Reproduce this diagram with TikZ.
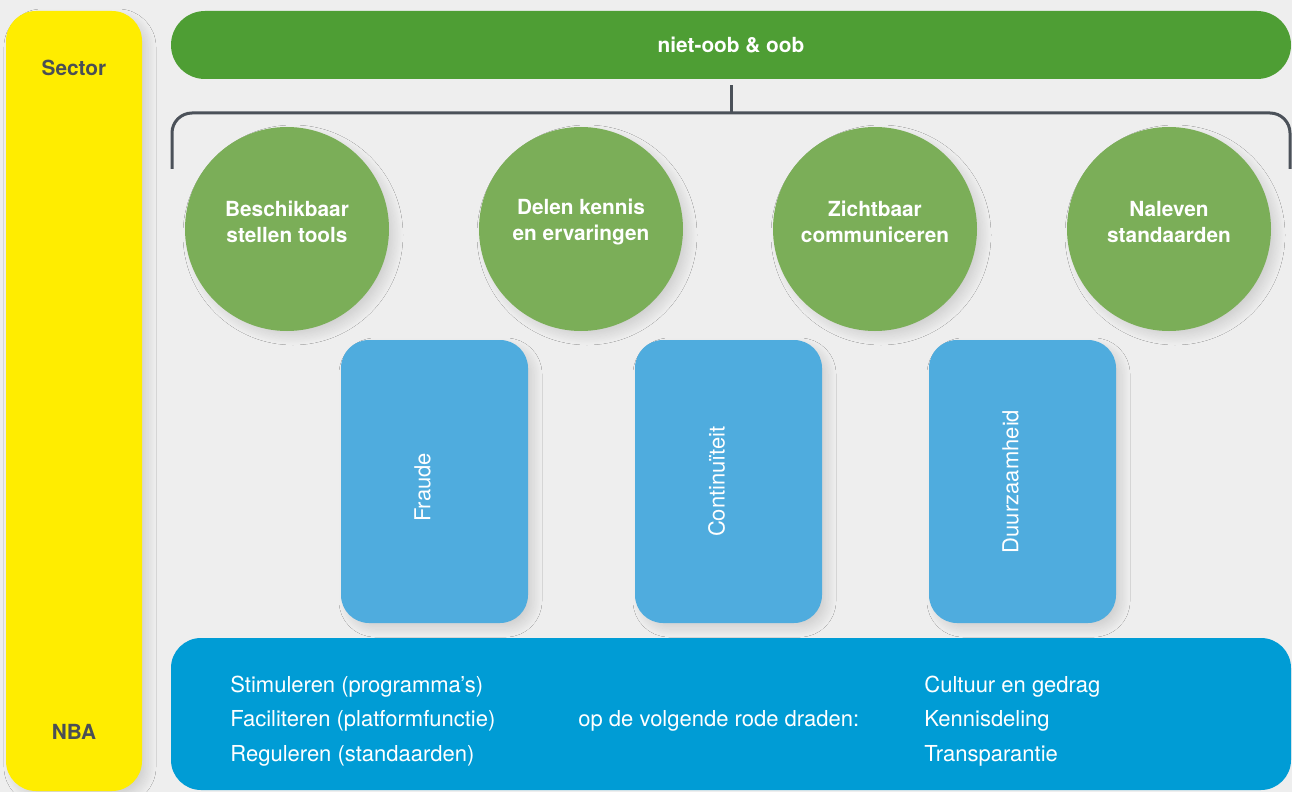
\documentclass[tikz,border=0pt]{standalone}
\usepackage{fontspec}
\setmainfont{TeX Gyre Heros}
\usetikzlibrary{shadows.blur}
\definecolor{bggray}{HTML}{EEEEEE}
\definecolor{nbayellow}{HTML}{FFED00}
\definecolor{bargreen}{HTML}{4E9E34}
\definecolor{goalgreen}{HTML}{7BAE58}
\definecolor{themeblue}{HTML}{4FACDE}
\definecolor{basisblue}{HTML}{009CD5}
\definecolor{inkgray}{HTML}{4A4F55}
\definecolor{linegray}{HTML}{4B5159}

\begin{document}
\begin{tikzpicture}
[
x=0.5pt,y=-0.5pt,
softshadow/.style={blur shadow={shadow xshift=3pt,shadow yshift=-3pt,shadow blur steps=12,shadow blur radius=4pt,shadow opacity=12}},
pillar/.style={fill=nbayellow,rounded corners=15pt,minimum width=68pt,minimum height=390pt,inner sep=0pt,softshadow},
pillartext/.style={text=inkgray,font=\bfseries\fontsize{10.4}{13}\selectfont},
topbar/.style={fill=bargreen,rounded corners=17pt,minimum width=560pt,minimum height=34pt,inner sep=0pt,text=white,font=\bfseries\fontsize{10.4}{13}\selectfont},
goal/.style={circle,fill=goalgreen,minimum size=102pt,inner sep=0pt,softshadow},
goaltext/.style={text=white,align=center,font=\bfseries\fontsize{10.4}{13}\selectfont},
theme/.style={fill=themeblue,rounded corners=14pt,minimum width=93.5pt,minimum height=141.5pt,inner sep=0pt,softshadow},
themetext/.style={rotate=90,text=white,font=\fontsize{11}{13}\selectfont},
basis/.style={fill=basisblue,rounded corners=15pt,minimum width=560pt,minimum height=76pt,inner sep=0pt},
basistext/.style={text=white,align=left,anchor=west,inner sep=0pt,font=\fontsize{11}{17.2}\selectfont},
bracket/.style={draw=linegray,line width=1.5pt,rounded corners=10pt},
]

%Background and frame
\fill[bggray] (0,0) rectangle (1292,792);
\useasboundingbox (0,0) rectangle (1292,792);

%Place the nodes
\node[pillar] (sector) at (74,401) {};
\node[pillartext] (sectorlbl) at (74,68) {Sector};
\node[pillartext] (nbalbl) at (74,732) {NBA};

\node[topbar] (top) at (731,45) {niet-oob \& oob};

\node[goal] (g1) at (287,229) {};
\node[goal] (g2) at (581,229) {};
\node[goal] (g3) at (875,229) {};
\node[goal] (g4) at (1169,229) {};
\node[goaltext] at (287,222) {Beschikbaar\\stellen tools};
\node[goaltext] at (581,222) {Delen kennis\\en ervaringen};
\node[goaltext] at (875,222) {Zichtbaar\\communiceren};
\node[goaltext] at (1169,222) {Naleven\\standaarden};

\node[theme] (fraude) at (434.5,481.5) {};
\node[theme] (continu) at (728.5,481.5) {};
\node[theme] (duurzaam) at (1022.5,481.5) {};
\node[themetext] at ([xshift=-6pt,yshift=-3pt]fraude.center) {Fraude};
\node[themetext] at ([xshift=-6pt]continu.center) {Continuïteit};
\node[themetext] at ([xshift=-6pt]duurzaam.center) {Duurzaamheid};

\node[basis] (nba) at (731,714) {};
\node[basistext] (rollen) at (230,721) {Stimuleren (programma’s)\\Faciliteren (platformfunctie)\\Reguleren (standaarden)};
\node[basistext] (via) at (578,721) {op de volgende rode draden:};
\node[basistext] (draden) at (924,721) {Cultuur en gedrag\\Kennisdeling\\Transparantie};

%Draw the connections
\coordinate (bl) at (172,169);
\coordinate (bm) at (731,113);
\coordinate (br) at (1290,169);
\draw[bracket] (bl) |- (bm) -| (br);
\draw[bracket] ([yshift=-3pt]top.south) -- (bm);
\end{tikzpicture}
\end{document}
